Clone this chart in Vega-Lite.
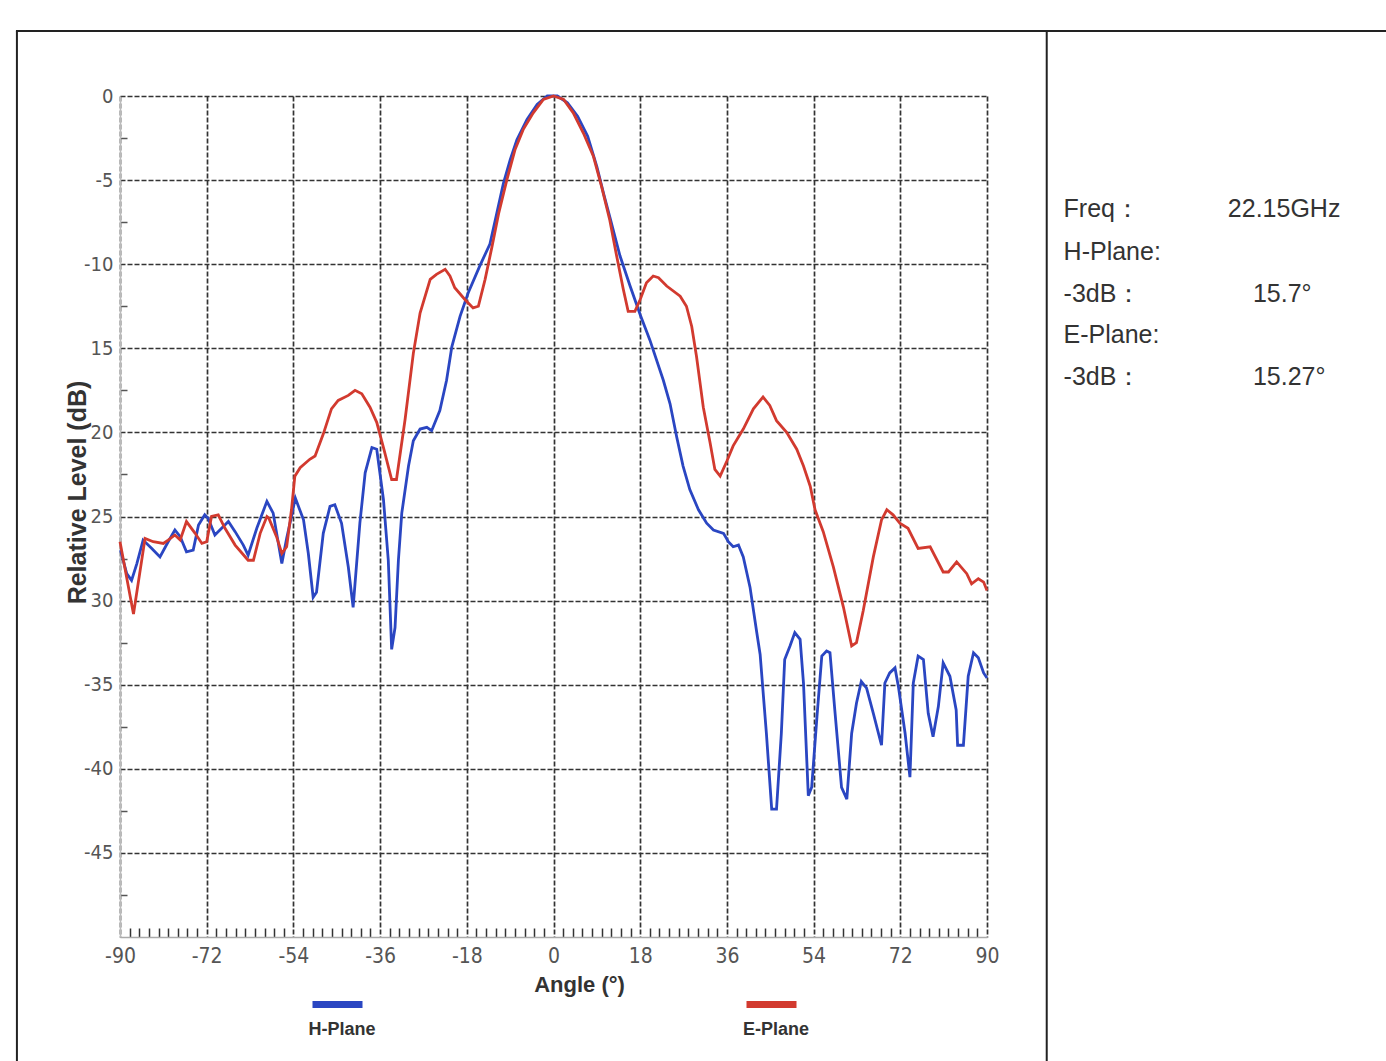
{
  "$schema": "https://vega.github.io/schema/vega-lite/v6.json",
  "width": 867,
  "height": 841,
  "padding": {"left": 14, "top": 30, "right": 0, "bottom": 0},
  "background": "white",
  "config": {
    "view": {"stroke": null},
    "text": {"font": "Liberation Sans"}
  },
  "data": {"values": [
    {"a": -89.9, "v": -27.0, "p": "H-Plane"},
    {"a": -88.6, "v": -28.4, "p": "H-Plane"},
    {"a": -87.6, "v": -28.8, "p": "H-Plane"},
    {"a": -86.5, "v": -27.8, "p": "H-Plane"},
    {"a": -85.2, "v": -26.4, "p": "H-Plane"},
    {"a": -83.4, "v": -26.9, "p": "H-Plane"},
    {"a": -81.7, "v": -27.4, "p": "H-Plane"},
    {"a": -80.0, "v": -26.5, "p": "H-Plane"},
    {"a": -78.6, "v": -25.8, "p": "H-Plane"},
    {"a": -77.5, "v": -26.2, "p": "H-Plane"},
    {"a": -76.2, "v": -27.1, "p": "H-Plane"},
    {"a": -74.8, "v": -27.0, "p": "H-Plane"},
    {"a": -73.7, "v": -25.5, "p": "H-Plane"},
    {"a": -72.4, "v": -24.9, "p": "H-Plane"},
    {"a": -71.7, "v": -25.1, "p": "H-Plane"},
    {"a": -70.3, "v": -26.1, "p": "H-Plane"},
    {"a": -68.9, "v": -25.7, "p": "H-Plane"},
    {"a": -67.5, "v": -25.3, "p": "H-Plane"},
    {"a": -66.1, "v": -25.9, "p": "H-Plane"},
    {"a": -64.4, "v": -26.7, "p": "H-Plane"},
    {"a": -63.4, "v": -27.3, "p": "H-Plane"},
    {"a": -61.6, "v": -25.7, "p": "H-Plane"},
    {"a": -59.5, "v": -24.1, "p": "H-Plane"},
    {"a": -58.2, "v": -24.8, "p": "H-Plane"},
    {"a": -56.4, "v": -27.8, "p": "H-Plane"},
    {"a": -55.4, "v": -26.3, "p": "H-Plane"},
    {"a": -54.4, "v": -25.0, "p": "H-Plane"},
    {"a": -53.6, "v": -23.9, "p": "H-Plane"},
    {"a": -51.9, "v": -25.2, "p": "H-Plane"},
    {"a": -50.9, "v": -27.2, "p": "H-Plane"},
    {"a": -49.9, "v": -29.8, "p": "H-Plane"},
    {"a": -49.2, "v": -29.5, "p": "H-Plane"},
    {"a": -47.8, "v": -26.0, "p": "H-Plane"},
    {"a": -46.4, "v": -24.4, "p": "H-Plane"},
    {"a": -45.4, "v": -24.3, "p": "H-Plane"},
    {"a": -44.0, "v": -25.4, "p": "H-Plane"},
    {"a": -42.6, "v": -28.0, "p": "H-Plane"},
    {"a": -41.6, "v": -30.4, "p": "H-Plane"},
    {"a": -40.2, "v": -25.4, "p": "H-Plane"},
    {"a": -39.1, "v": -22.4, "p": "H-Plane"},
    {"a": -37.7, "v": -20.9, "p": "H-Plane"},
    {"a": -36.7, "v": -21.0, "p": "H-Plane"},
    {"a": -35.3, "v": -24.0, "p": "H-Plane"},
    {"a": -34.3, "v": -27.6, "p": "H-Plane"},
    {"a": -33.6, "v": -32.9, "p": "H-Plane"},
    {"a": -32.9, "v": -31.6, "p": "H-Plane"},
    {"a": -32.2, "v": -27.6, "p": "H-Plane"},
    {"a": -31.5, "v": -24.8, "p": "H-Plane"},
    {"a": -30.1, "v": -22.0, "p": "H-Plane"},
    {"a": -29.1, "v": -20.5, "p": "H-Plane"},
    {"a": -27.7, "v": -19.8, "p": "H-Plane"},
    {"a": -26.3, "v": -19.7, "p": "H-Plane"},
    {"a": -25.3, "v": -19.9, "p": "H-Plane"},
    {"a": -23.6, "v": -18.7, "p": "H-Plane"},
    {"a": -22.2, "v": -16.9, "p": "H-Plane"},
    {"a": -21.1, "v": -14.9, "p": "H-Plane"},
    {"a": -19.4, "v": -13.1, "p": "H-Plane"},
    {"a": -17.7, "v": -11.7, "p": "H-Plane"},
    {"a": -15.3, "v": -10.1, "p": "H-Plane"},
    {"a": -13.2, "v": -8.8, "p": "H-Plane"},
    {"a": -11.8, "v": -7.0, "p": "H-Plane"},
    {"a": -10.4, "v": -5.2, "p": "H-Plane"},
    {"a": -9.0, "v": -3.8, "p": "H-Plane"},
    {"a": -7.6, "v": -2.6, "p": "H-Plane"},
    {"a": -5.5, "v": -1.4, "p": "H-Plane"},
    {"a": -3.4, "v": -0.5, "p": "H-Plane"},
    {"a": -1.3, "v": 0.0, "p": "H-Plane"},
    {"a": 0.8, "v": 0.0, "p": "H-Plane"},
    {"a": 2.9, "v": -0.4, "p": "H-Plane"},
    {"a": 5.0, "v": -1.2, "p": "H-Plane"},
    {"a": 7.1, "v": -2.4, "p": "H-Plane"},
    {"a": 9.0, "v": -4.2, "p": "H-Plane"},
    {"a": 10.4, "v": -5.8, "p": "H-Plane"},
    {"a": 11.7, "v": -7.2, "p": "H-Plane"},
    {"a": 13.8, "v": -9.5, "p": "H-Plane"},
    {"a": 15.9, "v": -11.3, "p": "H-Plane"},
    {"a": 18.0, "v": -13.0, "p": "H-Plane"},
    {"a": 20.0, "v": -14.5, "p": "H-Plane"},
    {"a": 22.8, "v": -16.9, "p": "H-Plane"},
    {"a": 24.2, "v": -18.3, "p": "H-Plane"},
    {"a": 25.6, "v": -20.3, "p": "H-Plane"},
    {"a": 26.9, "v": -22.0, "p": "H-Plane"},
    {"a": 28.3, "v": -23.4, "p": "H-Plane"},
    {"a": 30.1, "v": -24.6, "p": "H-Plane"},
    {"a": 31.8, "v": -25.4, "p": "H-Plane"},
    {"a": 33.2, "v": -25.8, "p": "H-Plane"},
    {"a": 35.3, "v": -26.0, "p": "H-Plane"},
    {"a": 36.3, "v": -26.5, "p": "H-Plane"},
    {"a": 37.3, "v": -26.8, "p": "H-Plane"},
    {"a": 38.4, "v": -26.7, "p": "H-Plane"},
    {"a": 39.4, "v": -27.4, "p": "H-Plane"},
    {"a": 40.8, "v": -29.2, "p": "H-Plane"},
    {"a": 42.2, "v": -31.9, "p": "H-Plane"},
    {"a": 42.9, "v": -33.2, "p": "H-Plane"},
    {"a": 44.2, "v": -37.9, "p": "H-Plane"},
    {"a": 45.3, "v": -42.4, "p": "H-Plane"},
    {"a": 46.3, "v": -42.4, "p": "H-Plane"},
    {"a": 47.3, "v": -37.9, "p": "H-Plane"},
    {"a": 48.0, "v": -33.5, "p": "H-Plane"},
    {"a": 49.1, "v": -32.7, "p": "H-Plane"},
    {"a": 50.1, "v": -31.9, "p": "H-Plane"},
    {"a": 51.2, "v": -32.3, "p": "H-Plane"},
    {"a": 51.9, "v": -34.9, "p": "H-Plane"},
    {"a": 52.9, "v": -41.6, "p": "H-Plane"},
    {"a": 53.6, "v": -41.1, "p": "H-Plane"},
    {"a": 54.7, "v": -36.9, "p": "H-Plane"},
    {"a": 55.7, "v": -33.3, "p": "H-Plane"},
    {"a": 56.7, "v": -33.0, "p": "H-Plane"},
    {"a": 57.4, "v": -33.1, "p": "H-Plane"},
    {"a": 58.4, "v": -36.5, "p": "H-Plane"},
    {"a": 59.8, "v": -41.1, "p": "H-Plane"},
    {"a": 60.9, "v": -41.8, "p": "H-Plane"},
    {"a": 61.9, "v": -37.9, "p": "H-Plane"},
    {"a": 62.9, "v": -36.1, "p": "H-Plane"},
    {"a": 63.9, "v": -34.8, "p": "H-Plane"},
    {"a": 65.0, "v": -35.2, "p": "H-Plane"},
    {"a": 66.4, "v": -36.7, "p": "H-Plane"},
    {"a": 68.1, "v": -38.6, "p": "H-Plane"},
    {"a": 68.8, "v": -34.9, "p": "H-Plane"},
    {"a": 69.8, "v": -34.3, "p": "H-Plane"},
    {"a": 70.9, "v": -34.0, "p": "H-Plane"},
    {"a": 71.6, "v": -35.1, "p": "H-Plane"},
    {"a": 73.0, "v": -37.9, "p": "H-Plane"},
    {"a": 74.0, "v": -40.5, "p": "H-Plane"},
    {"a": 74.7, "v": -34.9, "p": "H-Plane"},
    {"a": 75.7, "v": -33.3, "p": "H-Plane"},
    {"a": 76.8, "v": -33.5, "p": "H-Plane"},
    {"a": 77.8, "v": -36.7, "p": "H-Plane"},
    {"a": 78.8, "v": -38.1, "p": "H-Plane"},
    {"a": 79.9, "v": -36.3, "p": "H-Plane"},
    {"a": 80.9, "v": -33.7, "p": "H-Plane"},
    {"a": 82.3, "v": -34.5, "p": "H-Plane"},
    {"a": 83.6, "v": -36.5, "p": "H-Plane"},
    {"a": 83.9, "v": -38.6, "p": "H-Plane"},
    {"a": 85.1, "v": -38.6, "p": "H-Plane"},
    {"a": 86.1, "v": -34.5, "p": "H-Plane"},
    {"a": 87.2, "v": -33.1, "p": "H-Plane"},
    {"a": 88.2, "v": -33.4, "p": "H-Plane"},
    {"a": 89.3, "v": -34.3, "p": "H-Plane"},
    {"a": 90.0, "v": -34.6, "p": "H-Plane"},
    {"a": -90.0, "v": -26.5, "p": "E-Plane"},
    {"a": -87.2, "v": -30.8, "p": "E-Plane"},
    {"a": -84.8, "v": -26.3, "p": "E-Plane"},
    {"a": -83.1, "v": -26.5, "p": "E-Plane"},
    {"a": -81.0, "v": -26.6, "p": "E-Plane"},
    {"a": -80.0, "v": -26.4, "p": "E-Plane"},
    {"a": -78.6, "v": -26.1, "p": "E-Plane"},
    {"a": -77.5, "v": -26.4, "p": "E-Plane"},
    {"a": -76.2, "v": -25.3, "p": "E-Plane"},
    {"a": -74.4, "v": -26.0, "p": "E-Plane"},
    {"a": -73.0, "v": -26.6, "p": "E-Plane"},
    {"a": -72.0, "v": -26.5, "p": "E-Plane"},
    {"a": -71.0, "v": -25.0, "p": "E-Plane"},
    {"a": -69.6, "v": -24.9, "p": "E-Plane"},
    {"a": -68.2, "v": -25.7, "p": "E-Plane"},
    {"a": -66.1, "v": -26.7, "p": "E-Plane"},
    {"a": -63.4, "v": -27.6, "p": "E-Plane"},
    {"a": -62.3, "v": -27.6, "p": "E-Plane"},
    {"a": -60.9, "v": -26.0, "p": "E-Plane"},
    {"a": -59.5, "v": -25.0, "p": "E-Plane"},
    {"a": -59.1, "v": -25.1, "p": "E-Plane"},
    {"a": -57.5, "v": -26.2, "p": "E-Plane"},
    {"a": -56.4, "v": -27.2, "p": "E-Plane"},
    {"a": -55.4, "v": -26.8, "p": "E-Plane"},
    {"a": -54.4, "v": -24.6, "p": "E-Plane"},
    {"a": -53.7, "v": -22.6, "p": "E-Plane"},
    {"a": -52.6, "v": -22.1, "p": "E-Plane"},
    {"a": -50.6, "v": -21.6, "p": "E-Plane"},
    {"a": -49.5, "v": -21.4, "p": "E-Plane"},
    {"a": -47.8, "v": -20.1, "p": "E-Plane"},
    {"a": -46.1, "v": -18.6, "p": "E-Plane"},
    {"a": -44.7, "v": -18.1, "p": "E-Plane"},
    {"a": -42.6, "v": -17.8, "p": "E-Plane"},
    {"a": -41.2, "v": -17.5, "p": "E-Plane"},
    {"a": -39.8, "v": -17.7, "p": "E-Plane"},
    {"a": -38.1, "v": -18.5, "p": "E-Plane"},
    {"a": -36.7, "v": -19.4, "p": "E-Plane"},
    {"a": -35.3, "v": -20.9, "p": "E-Plane"},
    {"a": -33.6, "v": -22.8, "p": "E-Plane"},
    {"a": -32.6, "v": -22.8, "p": "E-Plane"},
    {"a": -30.8, "v": -19.2, "p": "E-Plane"},
    {"a": -29.1, "v": -15.3, "p": "E-Plane"},
    {"a": -27.7, "v": -12.9, "p": "E-Plane"},
    {"a": -25.6, "v": -10.9, "p": "E-Plane"},
    {"a": -24.3, "v": -10.6, "p": "E-Plane"},
    {"a": -22.5, "v": -10.3, "p": "E-Plane"},
    {"a": -21.5, "v": -10.7, "p": "E-Plane"},
    {"a": -20.5, "v": -11.4, "p": "E-Plane"},
    {"a": -18.4, "v": -12.1, "p": "E-Plane"},
    {"a": -16.7, "v": -12.6, "p": "E-Plane"},
    {"a": -15.6, "v": -12.5, "p": "E-Plane"},
    {"a": -14.2, "v": -10.9, "p": "E-Plane"},
    {"a": -12.8, "v": -9.0, "p": "E-Plane"},
    {"a": -11.4, "v": -7.0, "p": "E-Plane"},
    {"a": -9.7, "v": -5.0, "p": "E-Plane"},
    {"a": -8.0, "v": -3.2, "p": "E-Plane"},
    {"a": -6.3, "v": -2.0, "p": "E-Plane"},
    {"a": -4.2, "v": -1.0, "p": "E-Plane"},
    {"a": -2.1, "v": -0.2, "p": "E-Plane"},
    {"a": 0.0, "v": 0.0, "p": "E-Plane"},
    {"a": 2.1, "v": -0.2, "p": "E-Plane"},
    {"a": 4.1, "v": -1.0, "p": "E-Plane"},
    {"a": 6.2, "v": -2.2, "p": "E-Plane"},
    {"a": 8.3, "v": -3.6, "p": "E-Plane"},
    {"a": 10.0, "v": -5.4, "p": "E-Plane"},
    {"a": 11.7, "v": -7.4, "p": "E-Plane"},
    {"a": 13.1, "v": -9.5, "p": "E-Plane"},
    {"a": 14.5, "v": -11.5, "p": "E-Plane"},
    {"a": 15.5, "v": -12.8, "p": "E-Plane"},
    {"a": 16.9, "v": -12.8, "p": "E-Plane"},
    {"a": 18.0, "v": -12.1, "p": "E-Plane"},
    {"a": 19.3, "v": -11.1, "p": "E-Plane"},
    {"a": 20.7, "v": -10.7, "p": "E-Plane"},
    {"a": 21.8, "v": -10.8, "p": "E-Plane"},
    {"a": 23.5, "v": -11.3, "p": "E-Plane"},
    {"a": 26.3, "v": -11.9, "p": "E-Plane"},
    {"a": 27.6, "v": -12.5, "p": "E-Plane"},
    {"a": 28.7, "v": -13.7, "p": "E-Plane"},
    {"a": 29.7, "v": -15.5, "p": "E-Plane"},
    {"a": 31.1, "v": -18.5, "p": "E-Plane"},
    {"a": 32.5, "v": -20.6, "p": "E-Plane"},
    {"a": 33.5, "v": -22.2, "p": "E-Plane"},
    {"a": 34.6, "v": -22.6, "p": "E-Plane"},
    {"a": 36.0, "v": -21.7, "p": "E-Plane"},
    {"a": 37.3, "v": -20.8, "p": "E-Plane"},
    {"a": 39.4, "v": -19.8, "p": "E-Plane"},
    {"a": 41.5, "v": -18.6, "p": "E-Plane"},
    {"a": 43.5, "v": -17.9, "p": "E-Plane"},
    {"a": 44.9, "v": -18.4, "p": "E-Plane"},
    {"a": 46.3, "v": -19.3, "p": "E-Plane"},
    {"a": 48.4, "v": -20.0, "p": "E-Plane"},
    {"a": 50.5, "v": -21.0, "p": "E-Plane"},
    {"a": 51.9, "v": -22.0, "p": "E-Plane"},
    {"a": 53.3, "v": -23.2, "p": "E-Plane"},
    {"a": 54.3, "v": -24.6, "p": "E-Plane"},
    {"a": 56.0, "v": -25.9, "p": "E-Plane"},
    {"a": 58.1, "v": -28.0, "p": "E-Plane"},
    {"a": 60.2, "v": -30.4, "p": "E-Plane"},
    {"a": 61.9, "v": -32.7, "p": "E-Plane"},
    {"a": 62.9, "v": -32.5, "p": "E-Plane"},
    {"a": 64.3, "v": -30.6, "p": "E-Plane"},
    {"a": 66.4, "v": -27.4, "p": "E-Plane"},
    {"a": 68.1, "v": -25.2, "p": "E-Plane"},
    {"a": 69.2, "v": -24.6, "p": "E-Plane"},
    {"a": 70.5, "v": -24.9, "p": "E-Plane"},
    {"a": 71.9, "v": -25.4, "p": "E-Plane"},
    {"a": 73.6, "v": -25.7, "p": "E-Plane"},
    {"a": 75.7, "v": -26.9, "p": "E-Plane"},
    {"a": 78.2, "v": -26.8, "p": "E-Plane"},
    {"a": 80.9, "v": -28.3, "p": "E-Plane"},
    {"a": 82.0, "v": -28.3, "p": "E-Plane"},
    {"a": 83.7, "v": -27.7, "p": "E-Plane"},
    {"a": 85.8, "v": -28.4, "p": "E-Plane"},
    {"a": 86.8, "v": -29.0, "p": "E-Plane"},
    {"a": 88.2, "v": -28.7, "p": "E-Plane"},
    {"a": 89.3, "v": -28.9, "p": "E-Plane"},
    {"a": 90.0, "v": -29.4, "p": "E-Plane"}
  ]},
  "layer": [
    {
      "mark": {"type": "line", "strokeWidth": 2.8, "clip": false},
      "encoding": {
        "x": {
          "field": "a", "type": "quantitative",
          "scale": {"domain": [-90, 90], "nice": false, "zero": false},
          "axis": {
            "title": "Angle (°)",
            "values": [-90,-88,-86,-84,-82,-80,-78,-76,-74,-72,-70,-68,-66,-64,-62,-60,-58,-56,-54,-52,-50,-48,-46,-44,-42,-40,-38,-36,-34,-32,-30,-28,-26,-24,-22,-20,-18,-16,-14,-12,-10,-8,-6,-4,-2,0,2,4,6,8,10,12,14,16,18,20,22,24,26,28,30,32,34,36,38,40,42,44,46,48,50,52,54,56,58,60,62,64,66,68,70,72,74,76,78,80,82,84,86,88,90],
            "tickCount": 200,
            "labelExpr": "datum.value % 18 == 0 ? '' + datum.value : ''",
            "labelOverlap": false,
            "labelFlush": false,
            "labelFont": "Liberation Sans Narrow, DejaVu Sans Condensed, sans-serif",
            "labelFontSize": 21,
            "labelColor": "#555",
            "labelPadding": 17,
            "tickSize": -9,
            "tickColor": "#333",
            "tickWidth": 1.5,
            "tickOpacity": {"condition": {"test": "datum.value % 18 == 0", "value": 0}, "value": 1},
            "grid": true,
            "gridColor": "#333",
            "gridDash": [5, 2],
            "gridWidth": 1.7,
            "gridOpacity": {"condition": {"test": "datum.value % 18 == 0", "value": 1}, "value": 0},
            "domainColor": "#aaa",
            "domainWidth": 1.5,
            "titleFont": "Liberation Sans",
            "titleFontSize": 22,
            "titleFontWeight": "bold",
            "titleColor": "#333",
            "titleX": 459,
            "titlePadding": 8
          }
        },
        "y": {
          "field": "v", "type": "quantitative",
          "scale": {"domain": [-50, 0], "nice": false, "zero": false},
          "axis": {
            "title": "Relative Level (dB)",
            "values": [-50,-47.5,-45,-42.5,-40,-37.5,-35,-32.5,-30,-27.5,-25,-22.5,-20,-17.5,-15,-12.5,-10,-7.5,-5,-2.5,0],
            "tickCount": 100,
            "labelExpr": "datum.value % 5 != 0 || datum.value == -50 ? '' : (datum.value <= -15 && datum.value >= -30 ? '' + (-datum.value) : '' + datum.value)",
            "labelOverlap": false,
            "labelFlush": false,
            "labelFont": "Liberation Sans Narrow, DejaVu Sans Condensed, sans-serif",
            "labelFontSize": 20,
            "labelColor": "#555",
            "labelPadding": 14,
            "tickSize": -7,
            "tickColor": "#555",
            "tickWidth": 1.5,
            "tickOpacity": {"condition": {"test": "datum.value % 5 == 0", "value": 0}, "value": 1},
            "grid": true,
            "gridColor": "#333",
            "gridDash": [5, 2],
            "gridWidth": 1.7,
            "gridOpacity": {"condition": {"test": "datum.value % 5 == 0 && datum.value > -50", "value": 1}, "value": 0},
            "domainColor": "#bbb",
            "domainWidth": 1.5,
            "titleFont": "Liberation Sans",
            "titleFontSize": 25,
            "titleFontWeight": "bold",
            "titleColor": "#333",
            "titleX": -30,
            "titleY": 396
          }
        },
        "color": {
          "field": "p", "type": "nominal",
          "scale": {"domain": ["H-Plane", "E-Plane"], "range": ["#2a46c2", "#d23a2f"]},
          "legend": {
            "orient": "none",
            "legendX": 189,
            "legendY": 898,
            "direction": "horizontal",
            "title": null,
            "padding": 0,
            "symbolType": "stroke",
            "symbolSize": 2500,
            "symbolStrokeWidth": 7,
            "labelFont": "Liberation Sans",
            "labelFontSize": 18,
            "labelFontWeight": "bold",
            "labelColor": "#333",
            "columnPadding": 355,
            "encode": {
              "symbols": {"update": {"y": {"value": 10.5}}},
              "labels": {"update": {"x": {"value": 33}, "y": {"value": 36}, "align": {"value": "center"}, "baseline": {"value": "middle"}}}
            }
          }
        }
      }
    },
    {
      "data": {"values": [{}]},
      "mark": {"type": "rule", "color": "#222", "strokeWidth": 2},
      "encoding": {"x": {"datum": -111.4}, "y": {"datum": 3.86}, "y2": {"datum": -57.5}}
    },
    {
      "data": {"values": [{}]},
      "mark": {"type": "rule", "color": "#222", "strokeWidth": 2},
      "encoding": {"x": {"datum": -111.6}, "x2": {"datum": 173}, "y": {"datum": 3.86}}
    },
    {
      "data": {"values": [{}]},
      "mark": {"type": "rule", "color": "#222", "strokeWidth": 2},
      "encoding": {"x": {"datum": 102.4}, "y": {"datum": 3.86}, "y2": {"datum": -57.5}}
    },
    {
      "data": {"values": [{}]},
      "mark": {"type": "text", "align": "left", "baseline": "alphabetic", "fontSize": 25, "color": "#333"},
      "encoding": {"x": {"datum": 105.9}, "y": {"datum": -7.21}, "text": {"value": "Freq："}}
    },
    {
      "data": {"values": [{}]},
      "mark": {"type": "text", "align": "left", "baseline": "alphabetic", "fontSize": 25, "color": "#333"},
      "encoding": {"x": {"datum": 140.0}, "y": {"datum": -7.21}, "text": {"value": "22.15GHz"}}
    },
    {
      "data": {"values": [{}]},
      "mark": {"type": "text", "align": "left", "baseline": "alphabetic", "fontSize": 25, "color": "#333"},
      "encoding": {"x": {"datum": 105.9}, "y": {"datum": -9.75}, "text": {"value": "H-Plane:"}}
    },
    {
      "data": {"values": [{}]},
      "mark": {"type": "text", "align": "left", "baseline": "alphabetic", "fontSize": 25, "color": "#333"},
      "encoding": {"x": {"datum": 105.9}, "y": {"datum": -12.23}, "text": {"value": "-3dB："}}
    },
    {
      "data": {"values": [{}]},
      "mark": {"type": "text", "align": "left", "baseline": "alphabetic", "fontSize": 25, "color": "#333"},
      "encoding": {"x": {"datum": 145.2}, "y": {"datum": -12.23}, "text": {"value": "15.7°"}}
    },
    {
      "data": {"values": [{}]},
      "mark": {"type": "text", "align": "left", "baseline": "alphabetic", "fontSize": 25, "color": "#333"},
      "encoding": {"x": {"datum": 105.9}, "y": {"datum": -14.7}, "text": {"value": "E-Plane:"}}
    },
    {
      "data": {"values": [{}]},
      "mark": {"type": "text", "align": "left", "baseline": "alphabetic", "fontSize": 25, "color": "#333"},
      "encoding": {"x": {"datum": 105.9}, "y": {"datum": -17.18}, "text": {"value": "-3dB："}}
    },
    {
      "data": {"values": [{}]},
      "mark": {"type": "text", "align": "left", "baseline": "alphabetic", "fontSize": 25, "color": "#333"},
      "encoding": {"x": {"datum": 145.2}, "y": {"datum": -17.18}, "text": {"value": "15.27°"}}
    }
  ]
}
